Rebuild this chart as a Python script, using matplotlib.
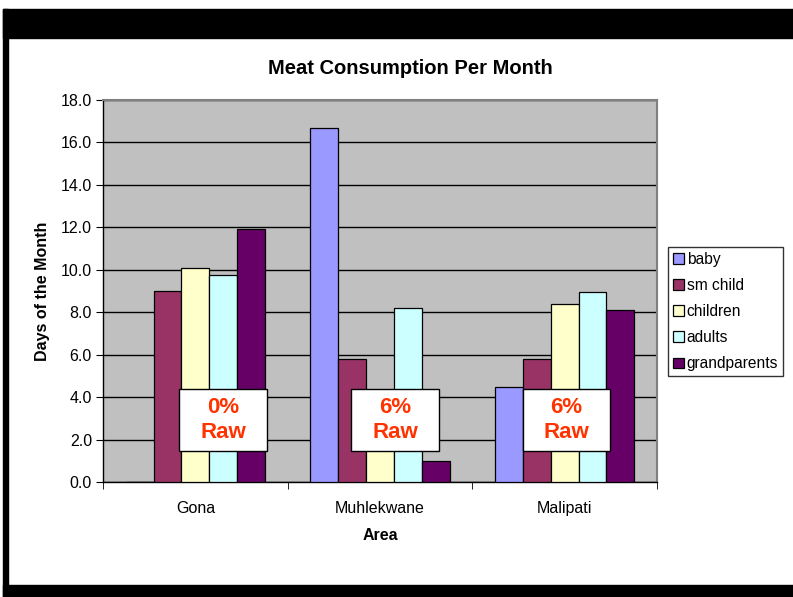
import matplotlib.pyplot as plt
import numpy as np
from matplotlib.patches import Rectangle

areas = ["Gona", "Muhlekwane", "Malipati"]
groups = ["baby", "sm child", "children", "adults", "grandparents"]
days = {
    "baby": [0.0, 16.7, 4.5],
    "sm child": [9.0, 5.8, 5.8],
    "children": [10.1, 4.0, 8.4],
    "adults": [9.75, 8.2, 8.95],
    "grandparents": [11.9, 1.0, 8.1],
}
raw_labels = ["0%\nRaw", "6%\nRaw", "6%\nRaw"]
colors = ["#9999FF", "#993366", "#FFFFCC", "#CCFFFF", "#660066"]

plt.rcParams["font.family"] = ["Liberation Sans", "DejaVu Sans"]

W, H = 793, 597
fig = plt.figure(figsize=(W / 100, H / 100), dpi=100)

# black frame around the slide
for x0, y0, w, h in [(3, 9, 790, 29), (3, 9, 5, 588), (3, 585, 790, 12)]:
    fig.patches.append(Rectangle((x0 / W, 1 - (y0 + h) / H), w / W, h / H,
                                 transform=fig.transFigure, color="black", zorder=0))

ax = fig.add_axes([103 / W, 1 - 482 / H, 554 / W, 382 / H])
ax.set_facecolor("#C0C0C0")

x = np.arange(len(areas))
width = 0.151
for i, (name, color) in enumerate(zip(groups, colors)):
    ax.bar(x + (i - 2) * width, days[name], width=width, color=color,
           edgecolor="black", linewidth=0.9, label=name, zorder=3)

ax.set_xlim(-0.5, len(areas) - 0.5)
ax.set_ylim(0, 18)
yticks = np.arange(0, 18.1, 2)
ax.set_yticks(yticks)
ax.set_yticklabels([f"{v:.1f}" for v in yticks], fontsize=11.5)
ax.yaxis.grid(True, color="black", linewidth=1, zorder=1)
ax.set_axisbelow(True)

ax.set_xticks(x)
ax.set_xticklabels(areas, fontsize=11.5)
ax.tick_params(axis="x", length=0, pad=14)
ax.set_xticks(np.arange(-0.5, len(areas)), minor=True)
ax.tick_params(axis="x", which="minor", length=5, direction="out", color="black")
ax.tick_params(axis="y", length=5, direction="out", color="black", pad=3)

for side in ("top", "right"):
    ax.spines[side].set_color("#808080")
    ax.spines[side].set_linewidth(1.5)
for side in ("left", "bottom"):
    ax.spines[side].set_color("black")
    ax.spines[side].set_linewidth(1)

fig.text(410 / W, 1 - 68 / H, "Meat Consumption Per Month", ha="center",
         va="center", fontsize=14.5, fontweight="bold")
ax.set_xlabel("Area", fontsize=11.5, fontweight="bold", labelpad=8)
ax.set_ylabel("Days of the Month", fontsize=11.5, fontweight="bold", labelpad=8)

# raw-meat share boxes over each area
box_left = [-0.088, 0.844, 1.772]
box_w, box_y0, box_h = 0.476, 1.44, 2.92
for bx, text in zip(box_left, raw_labels):
    ax.add_patch(Rectangle((bx, box_y0), box_w, box_h, facecolor="white",
                           edgecolor="black", linewidth=1, zorder=5))
    ax.text(bx + box_w / 2, box_y0 + box_h / 2, text, ha="center", va="center",
            fontsize=16, fontweight="bold", color="#FF3300", linespacing=1.25,
            zorder=6)

leg = ax.legend(loc="upper left", bbox_to_anchor=(668 / W, 1 - 247 / H),
                bbox_transform=fig.transFigure, fontsize=11.2, frameon=True,
                fancybox=False, edgecolor="black", handlelength=0.7,
                handleheight=0.7, handletextpad=0.2, labelspacing=0.72,
                borderpad=0.3, borderaxespad=0)
leg.get_frame().set_linewidth(1)

fig.savefig("out.png", dpi=100, facecolor="white")
